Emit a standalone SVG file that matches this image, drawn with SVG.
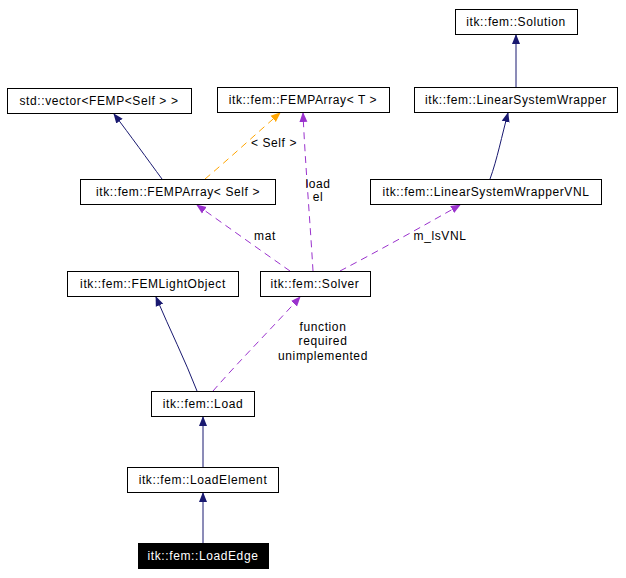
<svg xmlns="http://www.w3.org/2000/svg" width="626" height="578" viewBox="0 0 626 578">
<style>
.n rect{fill:#fff;stroke:#000;stroke-width:1}
text{font-family:"Liberation Sans",Arial,sans-serif;font-size:12px;letter-spacing:0.6px;text-anchor:middle}
.s{stroke:#191970;fill:none}
.p{stroke:#9a32cd;fill:none;stroke-dasharray:7,5}
.o{stroke:#ffa500;fill:none;stroke-dasharray:7,5}
</style>
<defs>
<marker id="an" markerWidth="10" markerHeight="10" refX="9" refY="5" orient="auto" markerUnits="userSpaceOnUse"><path d="M0,1 L10,5 L0,9 z" fill="#191970"/></marker>
<marker id="ap" markerWidth="10" markerHeight="10" refX="9" refY="5" orient="auto" markerUnits="userSpaceOnUse"><path d="M0,1 L10,5 L0,9 z" fill="#9a32cd"/></marker>
<marker id="ao" markerWidth="10" markerHeight="10" refX="9" refY="5" orient="auto" markerUnits="userSpaceOnUse"><path d="M0,1 L10,5 L0,9 z" fill="#ffa500"/></marker>
</defs>
<g id="connectors">
<path class="s" d="M516,87 L516,35" marker-end="url(#an)"/>
<path class="s" d="M490,179 C497,160 502,135 508,113" marker-end="url(#an)"/>
<path class="s" d="M162,179 C148,160 130,135 114,114" marker-end="url(#an)"/>
<path class="o" d="M205,179 C230,158 258,132 280,113" marker-end="url(#ao)"/>
<text x="274" y="147">&lt; Self &gt;</text>
<path class="p" d="M313,271 C310,220 305,160 303,113" marker-end="url(#ap)"/>
<text x="318" y="188">load</text><text x="318" y="201">el</text>
<path class="p" d="M290,271 C260,250 225,225 197,205" marker-end="url(#ap)"/>
<text x="265" y="240">mat</text>
<path class="p" d="M340,271 C380,250 425,225 460,205" marker-end="url(#ap)"/>
<text x="440" y="240">m_lsVNL</text>
<path class="s" d="M197,391 C185,360 170,330 156,297" marker-end="url(#an)"/>
<path class="p" d="M213,391 C240,360 275,325 300,297" marker-end="url(#ap)"/>
<text x="323" y="331">function</text><text x="323" y="345">required</text><text x="323" y="360">unimplemented</text>
<path class="s" d="M203,467 L203,417" marker-end="url(#an)"/>
<path class="s" d="M203,543 L203,493" marker-end="url(#an)"/>
</g>
<g id="solution" class="n"><rect x="455.5" y="9.5" width="122" height="25"/><text x="516" y="26">itk::fem::Solution</text></g>
<g id="lsw" class="n"><rect x="414.5" y="87.5" width="203" height="25"/><text x="516" y="104">itk::fem::LinearSystemWrapper</text></g>
<g id="vector" class="n"><rect x="7.5" y="88.5" width="184" height="25"/><text x="99" y="105">std::vector&lt;FEMP&lt;Self &gt; &gt;</text></g>
<g id="femparrayT" class="n"><rect x="217.5" y="87.5" width="172" height="25"/><text x="303" y="104">itk::fem::FEMPArray&lt; T &gt;</text></g>
<g id="femparraySelf" class="n"><rect x="80.5" y="179.5" width="195" height="25"/><text x="178" y="196">itk::fem::FEMPArray&lt; Self &gt;</text></g>
<g id="vnl" class="n"><rect x="370.5" y="179.5" width="231" height="25"/><text x="486" y="196">itk::fem::LinearSystemWrapperVNL</text></g>
<g id="femlight" class="n"><rect x="67.5" y="271.5" width="171" height="25"/><text x="153" y="288">itk::fem::FEMLightObject</text></g>
<g id="solver" class="n"><rect x="260.5" y="271.5" width="110" height="25"/><text x="315" y="288">itk::fem::Solver</text></g>
<g id="load" class="n"><rect x="151.5" y="391.5" width="103" height="25"/><text x="203" y="408">itk::fem::Load</text></g>
<g id="loadelement" class="n"><rect x="127.5" y="467.5" width="151" height="25"/><text x="203" y="484">itk::fem::LoadElement</text></g>
<g id="loadedge"><rect x="138.5" y="543.5" width="130" height="25" fill="#000" stroke="#000"/><text x="203" y="560" fill="#fff">itk::fem::LoadEdge</text></g>
</svg>
